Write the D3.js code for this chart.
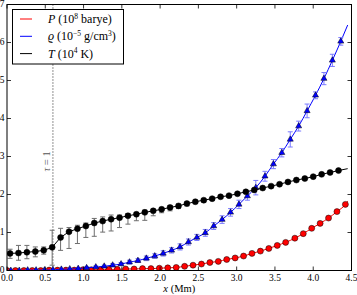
<!DOCTYPE html>
<html>
<head>
<meta charset="utf-8">
<script src="https://cdn.jsdelivr.net/npm/d3@7"></script>
<style>
  body { margin: 0; background: #fff; }
  svg { display: block; }
  text { font-family: "Liberation Serif", "DejaVu Serif", serif; }
</style>
</head>
<body>
<div id="chart"></div>
<script>
// pressure P (1e8 barye), red circles
var pX = [0.00, 0.11, 0.22, 0.33, 0.44, 0.55, 0.66, 0.77, 0.88, 0.99, 1.10, 1.22, 1.33, 1.44, 1.55, 1.66, 1.77, 1.88, 1.99, 2.10,
          2.21, 2.32, 2.43, 2.54, 2.65, 2.76, 2.87, 2.98, 3.09, 3.20, 3.31, 3.42, 3.53, 3.64, 3.76, 3.87, 3.98, 4.09, 4.20, 4.31, 4.42];
var pVal = [0.00, 0.00, 0.00, 0.00, 0.00, 0.01, 0.01, 0.01, 0.01, 0.02, 0.02, 0.02, 0.03, 0.03, 0.04, 0.04, 0.05, 0.05, 0.06, 0.07,
            0.08, 0.11, 0.14, 0.17, 0.21, 0.24, 0.29, 0.33, 0.38, 0.45, 0.51, 0.58, 0.66, 0.74, 0.85, 0.97, 1.11, 1.24, 1.38, 1.55, 1.74];
var pEnd = [4.45, 1.83];

// density rho (1e-5 g/cm3), blue triangles
var rX = [0.05, 0.16, 0.27, 0.38, 0.49, 0.60, 0.71, 0.82, 0.93, 1.04, 1.16, 1.27, 1.38, 1.49, 1.60, 1.71, 1.82, 1.93, 2.04, 2.15,
          2.26, 2.37, 2.48, 2.59, 2.70, 2.81, 2.92, 3.03, 3.14, 3.25, 3.37, 3.48, 3.59, 3.70, 3.81, 3.92, 4.03, 4.14, 4.25, 4.36];
var rVal = [0.00, 0.00, 0.01, 0.01, 0.01, 0.02, 0.03, 0.04, 0.05, 0.07, 0.09, 0.11, 0.14, 0.17, 0.22, 0.26, 0.32, 0.38, 0.45, 0.53,
            0.62, 0.75, 0.87, 0.99, 1.17, 1.34, 1.53, 1.74, 1.96, 2.18, 2.48, 2.80, 3.10, 3.45, 3.80, 4.20, 4.61, 5.05, 5.53, 6.03];
var rErr = [0.01, 0.01, 0.01, 0.01, 0.01, 0.01, 0.01, 0.02, 0.02, 0.03, 0.03, 0.03, 0.04, 0.04, 0.05, 0.05, 0.06, 0.06, 0.07, 0.07,
            0.08, 0.08, 0.08, 0.09, 0.09, 0.10, 0.10, 0.11, 0.11, 0.19, 0.13, 0.12, 0.11, 0.20, 0.13, 0.18, 0.09, 0.16, 0.16, 0.10];
var rStart = [0.0, 0.0];
var rEnd = [4.45, 6.46];

// temperature T (1e4 K), black circles, asymmetric error bars
var tX = [0.04, 0.15, 0.26, 0.37, 0.48, 0.59, 0.70, 0.81, 0.92, 1.03, 1.14, 1.25, 1.36, 1.47, 1.58, 1.69, 1.80, 1.91, 2.02, 2.13,
          2.24, 2.35, 2.46, 2.57, 2.68, 2.79, 2.90, 3.01, 3.12, 3.23, 3.34, 3.45, 3.56, 3.67, 3.78, 3.89, 4.00, 4.11, 4.22, 4.33];
var tVal = [0.45, 0.46, 0.48, 0.50, 0.53, 0.61, 0.87, 1.02, 1.10, 1.17, 1.25, 1.30, 1.35, 1.39, 1.44, 1.48, 1.53, 1.57, 1.61, 1.66,
            1.70, 1.76, 1.81, 1.85, 1.89, 1.94, 1.97, 2.02, 2.07, 2.12, 2.17, 2.22, 2.27, 2.33, 2.38, 2.42, 2.47, 2.53, 2.58, 2.63];
var tErrHi = [0.11, 0.20, 0.18, 0.12, 0.09, 0.45, 0.24, 0.11, 0.09, 0.08, 0.12, 0.11, 0.11, 0.07, 0.06, 0.05, 0.06, 0.04, 0.05, 0.05,
              0.05, 0.04, 0.04, 0.04, 0.03, 0.03, 0.03, 0.03, 0.03, 0.03, 0.03, 0.03, 0.03, 0.03, 0.03, 0.03, 0.03, 0.03, 0.03, 0.03];
var tErrLo = [0.13, 0.19, 0.17, 0.14, 0.10, 0.47, 0.34, 0.44, 0.39, 0.30, 0.35, 0.29, 0.31, 0.26, 0.22, 0.17, 0.21, 0.13, 0.09, 0.09,
              0.07, 0.06, 0.05, 0.05, 0.04, 0.04, 0.04, 0.04, 0.04, 0.04, 0.04, 0.03, 0.03, 0.03, 0.03, 0.03, 0.03, 0.03, 0.03, 0.03];
var tStart = [0.0, 0.44];
var tEnd = [4.45, 2.68];

var tauX = 0.6;
var xTicks = [0, 0.5, 1, 1.5, 2, 2.5, 3, 3.5, 4, 4.5];
var yTicks = [0, 1, 2, 3, 4, 5, 6, 7];

var W = 357, H = 295;
var m = {left: 7, right: 351.5, top: 4.5, bottom: 270.5};

var svg = d3.select("#chart").append("svg")
  .attr("width", W).attr("height", H);

var x = d3.scaleLinear().domain([0, 4.5]).range([m.left, m.right]);
var y = d3.scaleLinear().domain([0, 7]).range([m.bottom, m.top]);

var plot = svg.append("g");
plot.append("clipPath").attr("id", "clip")
  .append("rect").attr("x", m.left).attr("y", m.top)
  .attr("width", m.right - m.left).attr("height", m.bottom - m.top);

// tau = 1 marker
plot.append("line")
  .attr("x1", x(tauX)).attr("x2", x(tauX))
  .attr("y1", m.top).attr("y2", m.bottom)
  .attr("stroke", "#222").attr("stroke-width", 1)
  .attr("stroke-dasharray", "1,2");

plot.append("text")
  .attr("transform", "translate(" + (x(tauX) - 3) + "," + y(2.87) + ") rotate(-90)")
  .attr("text-anchor", "middle")
  .attr("fill", "#555")
  .style("font-size", "10.5px")
  .html('<tspan font-style="italic">τ</tspan> = 1');

function series(xs, vs, hi, lo, start, end, color, errColor, marker, smooth) {
  var g = plot.append("g").attr("clip-path", "url(#clip)");
  var pts = xs.map(function(d, i) { return [d, vs[i], hi ? hi[i] : 0, lo ? lo[i] : 0]; });
  var linePts = pts.slice();
  if (start) linePts.unshift(start);
  if (end) linePts.push(end);

  g.append("path")
    .datum(linePts)
    .attr("fill", "none")
    .attr("stroke", color)
    .attr("stroke-width", 1)
    .attr("d", d3.line()
      .x(function(d) { return x(d[0]); })
      .y(function(d) { return y(d[1]); })
      .curve(smooth ? d3.curveMonotoneX : d3.curveLinear));

  if (hi) {
    var eb = g.selectAll(null).data(pts).enter().append("g")
      .attr("stroke", errColor).attr("stroke-width", 1);
    eb.append("line")
      .attr("x1", function(d) { return x(d[0]); })
      .attr("x2", function(d) { return x(d[0]); })
      .attr("y1", function(d) { return y(d[1] - d[3]); })
      .attr("y2", function(d) { return y(d[1] + d[2]); });
    eb.append("line")
      .attr("x1", function(d) { return x(d[0]) - 2.5; })
      .attr("x2", function(d) { return x(d[0]) + 2.5; })
      .attr("y1", function(d) { return y(d[1] + d[2]); })
      .attr("y2", function(d) { return y(d[1] + d[2]); });
    eb.append("line")
      .attr("x1", function(d) { return x(d[0]) - 2.5; })
      .attr("x2", function(d) { return x(d[0]) + 2.5; })
      .attr("y1", function(d) { return y(d[1] - d[3]); })
      .attr("y2", function(d) { return y(d[1] - d[3]); });
  }

  if (marker == "tri") {
    g.selectAll(null).data(pts).enter().append("path")
      .attr("transform", function(d) { return "translate(" + x(d[0]) + "," + y(d[1]) + ")"; })
      .attr("d", d3.symbol().type(d3.symbolTriangle).size(16))
      .attr("fill", color).attr("stroke", "#000").attr("stroke-width", 0.5);
  } else {
    g.selectAll(null).data(pts).enter().append("circle")
      .attr("cx", function(d) { return x(d[0]); })
      .attr("cy", function(d) { return y(d[1]); })
      .attr("r", 3)
      .attr("fill", color).attr("stroke", "#000").attr("stroke-width", 0.5);
  }
}

series(pX, pVal, null, null, null, pEnd, "#ff0000", null, "circle", true);
series(rX, rVal, rErr, rErr, rStart, rEnd, "#0000ff", "#7b7bff", "tri", true);
series(tX, tVal, tErrHi, tErrLo, tStart, tEnd, "#000000", "#6e6e6e", "circle", false);

// frame and inward ticks
plot.append("rect")
  .attr("x", m.left).attr("y", m.top)
  .attr("width", m.right - m.left).attr("height", m.bottom - m.top)
  .attr("fill", "none").attr("stroke", "#000").attr("stroke-width", 1);

var tickG = plot.append("g").attr("stroke", "#000").attr("stroke-width", 0.8);
xTicks.forEach(function(t) {
  tickG.append("line").attr("x1", x(t)).attr("x2", x(t)).attr("y1", m.bottom).attr("y2", m.bottom - 4);
  tickG.append("line").attr("x1", x(t)).attr("x2", x(t)).attr("y1", m.top).attr("y2", m.top + 4);
});
yTicks.forEach(function(t) {
  tickG.append("line").attr("x1", m.left).attr("x2", m.left + 4).attr("y1", y(t)).attr("y2", y(t));
  tickG.append("line").attr("x1", m.right).attr("x2", m.right - 4).attr("y1", y(t)).attr("y2", y(t));
});

svg.append("g").selectAll("text").data(xTicks).enter().append("text")
  .attr("x", function(d) { return x(d); })
  .attr("y", 281)
  .attr("text-anchor", "middle")
  .style("font-size", "9.5px")
  .text(function(d) { return d3.format(".1f")(d); });

svg.append("g").selectAll("text").data(yTicks).enter().append("text")
  .attr("x", 4.5)
  .attr("y", function(d) { return y(d) + 2.5; })
  .attr("text-anchor", "end")
  .style("font-size", "9.5px")
  .text(function(d) { return d; });

svg.append("text")
  .attr("x", (m.left + m.right) / 2)
  .attr("y", 291.5)
  .attr("text-anchor", "middle")
  .style("font-size", "10.5px")
  .html('<tspan font-style="italic">x</tspan> (Mm)');

// legend
var legend = svg.append("g");
legend.append("rect")
  .attr("x", 12.5).attr("y", 9.5).attr("width", 111).attr("height", 54.5)
  .attr("fill", "#fff").attr("stroke", "#000").attr("stroke-width", 1);

var legendItems = [
  {color: "#ff0000", html: '<tspan font-style="italic">P</tspan> (10<tspan dy="-4.5" font-size="7.5px">8</tspan><tspan dy="4.5"> barye)</tspan>'},
  {color: "#0000ff", html: '<tspan font-style="italic">ϱ</tspan> (10<tspan dy="-4.5" font-size="7.5px">−5</tspan><tspan dy="4.5"> g/cm</tspan><tspan dy="-4.5" font-size="7.5px">3</tspan><tspan dy="4.5">)</tspan>'},
  {color: "#000000", html: '<tspan font-style="italic">T</tspan> (10<tspan dy="-4.5" font-size="7.5px">4</tspan><tspan dy="4.5"> K)</tspan>'}
];
legendItems.forEach(function(d, i) {
  var yy = 19 + i * 17.3;
  legend.append("line")
    .attr("x1", 20).attr("x2", 32).attr("y1", yy).attr("y2", yy)
    .attr("stroke", d.color).attr("stroke-width", 1);
  legend.append("text")
    .attr("x", 48).attr("y", yy + 4)
    .style("font-size", "12px")
    .html(d.html);
});
</script>
</body>
</html>
